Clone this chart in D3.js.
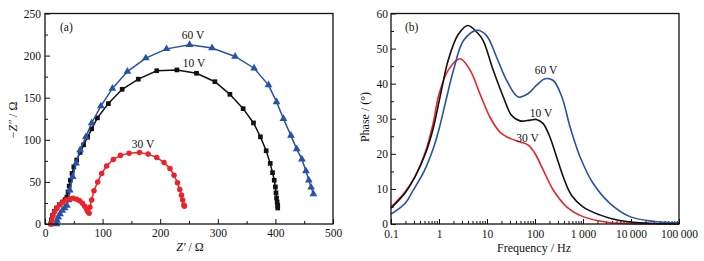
<!DOCTYPE html>
<html><head><meta charset="utf-8">
<script src="https://cdn.jsdelivr.net/npm/d3@7/dist/d3.min.js"></script>
<style>
body{margin:0;background:#fff}
svg text{font-family:"Liberation Serif","Times New Roman",serif;fill:#111}
</style>
</head><body>
<svg id="c" width="704" height="261"></svg>
<script>
// ---------- Panel (a): Nyquist data (Z', -Z'') ----------
const z10Re = [10,11,13,16,20,25,30,35,38,40,42,44,47,50,55,61,67,74,81,91,110,134,162,194,229,263,295,321,344,362,374,384,391,395,398,400,401,402,403,404,404];
const z10Im = [0,5,10,15,19,23,26,29,32,38,45,52,60,68,76,85,94,103,113,126,143,160,172,182,183,179,169,154,137,120,103.5,87,72,61,52,44,37,31,26,22,19];
const z30Re = [11,12,14,17,21,26,31,37,43,49,55,60,65,69,72,74,76.6,78,81,85,91.5,98.4,107,118.6,131,146,164,179,194,206.6,217,224,230,234,237,239,241,242];
const z30Im = [0,5,10,15,19,23,26,28.5,30,30.5,29.5,27.5,24.5,21,18,15,12.7,20,28.5,39.5,50,60,69,76.7,81.5,84,85,83,79,73,66,58,49,41,34,28.5,22.5,21];
const z60Re = [20,21,23,26,30,34,38,40.5,43,48,54,61,71,81,97,117,143,175,211,251,290,330,363,388,402,414,427,437,446,453,458,462,466];
const z60Im = [0,4,8,12,16,19,22,28.5,40,56,72,88,103.5,120,140,161,181,197,208,213,209,199,185,165,145,125,105,89,77,63,52,43.5,35.6];

// ---------- Panel (b): Bode phase data (frequency in Hz, phase in degrees) ----------
const f10 = [0.1,0.2,0.316,0.52,0.75,1.05,1.58,2.51,3.98,6.31,8.32,13.5,21.9,32.4,49,79.4,107,148,204,282,389,575,1000,2240,3980,8910,31600,1e5];
const p10 = [4.5,9,13.4,20,27,36.2,47,54,56.6,54.5,52.3,43.8,36.2,31,29.4,29.6,29.8,28.6,24.8,19.1,13.4,8.2,4.9,2.6,1.5,0.65,0.15,0.05];
const f30 = [0.1,0.2,0.316,0.52,0.75,1,1.58,2.75,4.47,7.08,11.5,18.6,30.2,49,72.4,100,148,240,457,1000,3160,10000,1e5];
const p30 = [4.8,9.3,13.5,20.5,28.5,37,44,47.1,43.8,37.2,30.5,26.2,24.4,23.4,22.5,20.1,15.4,9.7,4.9,2.1,0.5,0.1,0.02];
const f60 = [0.1,0.2,0.292,0.5,0.76,1,1.41,2,3.24,6.17,9.77,15.8,25.7,44.7,72.4,107,162,240,363,537,871,1620,3630,9550,31600,1e5];
const p60 = [2.8,6,9.7,15.3,21.5,27,35.5,43.8,52.3,55.2,53.7,47.6,40.9,36.2,37.2,39.5,41.4,40.9,36.2,27.7,19.1,11.6,5.9,2.1,0.7,0.3];

const xTicksA = [0,100,200,300,400,500];
const yTicksA = [0,50,100,150,200,250];
const xTicksB = [0.1,1,10,100,1000,10000,100000];
const xTickLabelsB = ["0.1","1","10","100","1\u2009000","10\u2009000","100\u2009000"];
const yTicksB = [0,10,20,30,40,50,60];

const colBlack = "#111", colRed = "#ee2229", colBlue = "#2652a8";
const FONT = "Liberation Serif, Times New Roman, serif";

const svg = d3.select("#c");

function frame(x0,x1,y0,y1){
  svg.append("rect").attr("x",x0).attr("y",y1).attr("width",x1-x0).attr("height",y0-y1)
    .attr("fill","none").attr("stroke","#111").attr("stroke-width",1.3);
}
function styleAxis(g){
  g.attr("font-family",FONT);
  g.select(".domain").remove();
  g.selectAll("line").attr("stroke","#111").attr("stroke-width",1);
  g.selectAll("text").attr("font-size",11.5).attr("fill","#111").attr("font-family",FONT);
}
function label(x,y,t,anchor){
  return svg.append("text").attr("x",x).attr("y",y).attr("text-anchor",anchor||"middle")
    .attr("font-size",11.5).attr("font-family",FONT).text(t);
}

// ===== Panel (a) =====
const xa = d3.scaleLinear([0,500],[45,333]);
const ya = d3.scaleLinear([0,250],[224,13.5]);

svg.append("g").attr("transform","translate(0,224)")
  .call(d3.axisBottom(xa).tickValues(d3.range(50,500,100)).tickSize(-3).tickFormat("")).call(styleAxis);
svg.append("g").attr("transform","translate(45,0)")
  .call(d3.axisLeft(ya).tickValues(d3.range(25,250,50)).tickSize(-3).tickFormat("")).call(styleAxis);
svg.append("g").attr("transform","translate(0,224)")
  .call(d3.axisBottom(xa).tickValues(xTicksA).tickSize(-5).tickPadding(5).tickFormat(d3.format("d"))).call(styleAxis);
svg.append("g").attr("transform","translate(45,0)")
  .call(d3.axisLeft(ya).tickValues(yTicksA).tickSize(-5).tickPadding(4).tickFormat(d3.format("d"))).call(styleAxis);

const lineA = d3.line().x(d=>xa(d[0])).y(d=>ya(d[1]));
function nyq(re,im,col,shape,size){
  const pts = re.map((r,i)=>[r,im[i]]);
  svg.append("path").datum(pts).attr("d",lineA).attr("fill","none").attr("stroke",col).attr("stroke-width",1.5);
  svg.append("g").selectAll("path").data(pts).join("path")
    .attr("transform",d=>`translate(${xa(d[0])},${ya(d[1])})`)
    .attr("d",d3.symbol().type(shape).size(size)).attr("fill",col);
}
nyq(z10Re,z10Im,colBlack,d3.symbolSquare,22);
nyq(z60Re,z60Im,colBlue,d3.symbolTriangle,26);
nyq(z30Re,z30Im,colRed,d3.symbolCircle,24);
frame(45,333,224,13.5);

label(60,31,"(a)","start");
label(193,39,"60 V");
label(194,67,"10 V");
label(143,148,"30 V");

const xt = svg.append("text").attr("x",190).attr("y",251).attr("text-anchor","middle").attr("font-size",12).attr("font-family",FONT);
xt.append("tspan").attr("font-style","italic").text("Z′");
xt.append("tspan").text(" / Ω");
const yt = svg.append("text").attr("transform","translate(17,120) rotate(-90)").attr("text-anchor","middle").attr("font-size",12).attr("font-family",FONT);
yt.append("tspan").text("−");
yt.append("tspan").attr("font-style","italic").text("Z″");
yt.append("tspan").text(" / Ω");

// ===== Panel (b) =====
const xb = d3.scaleLog([0.1,1e5],[391,679]);
const yb = d3.scaleLinear([0,60],[224,13.5]);
const minorB = [];
for (let e=-1;e<5;e++) for (let m=2;m<=9;m++) minorB.push(m*Math.pow(10,e));

svg.append("g").attr("transform","translate(0,224)")
  .call(d3.axisBottom(xb).tickValues(minorB).tickSize(-3).tickFormat("")).call(styleAxis);
svg.append("g").attr("transform","translate(391,0)")
  .call(d3.axisLeft(yb).tickValues(d3.range(5,60,10)).tickSize(-3).tickFormat("")).call(styleAxis);
svg.append("g").attr("transform","translate(0,224)")
  .call(d3.axisBottom(xb).tickValues(xTicksB).tickSize(-5).tickPadding(6).tickFormat((d,i)=>xTickLabelsB[i])).call(styleAxis);
svg.append("g").attr("transform","translate(391,0)")
  .call(d3.axisLeft(yb).tickValues(yTicksB).tickSize(-5).tickPadding(3).tickFormat(d3.format("d"))).call(styleAxis);

const lineB = d3.line().x(d=>xb(d[0])).y(d=>yb(d[1])).curve(d3.curveCatmullRom.alpha(0.5));
function bode(f,p,col){
  const pts = f.map((v,i)=>[v,p[i]]);
  svg.append("path").datum(pts).attr("d",lineB).attr("fill","none").attr("stroke",col).attr("stroke-width",1.6);
}
bode(f30,p30,colRed);
bode(f10,p10,colBlack);
bode(f60,p60,colBlue);
frame(391,679,224,13.5);

label(405,31,"(b)","start");
label(546,74,"60 V");
label(541,116.5,"10 V");
label(527.5,141.5,"30 V");

svg.append("text").attr("x",534).attr("y",252).attr("text-anchor","middle").attr("font-size",12).attr("font-family",FONT).text("Frequency / Hz");
svg.append("text").attr("transform","translate(369,117) rotate(-90)").attr("text-anchor","middle").attr("font-size",12).attr("font-family",FONT).text("Phase / (°)");
</script>
</body></html>
